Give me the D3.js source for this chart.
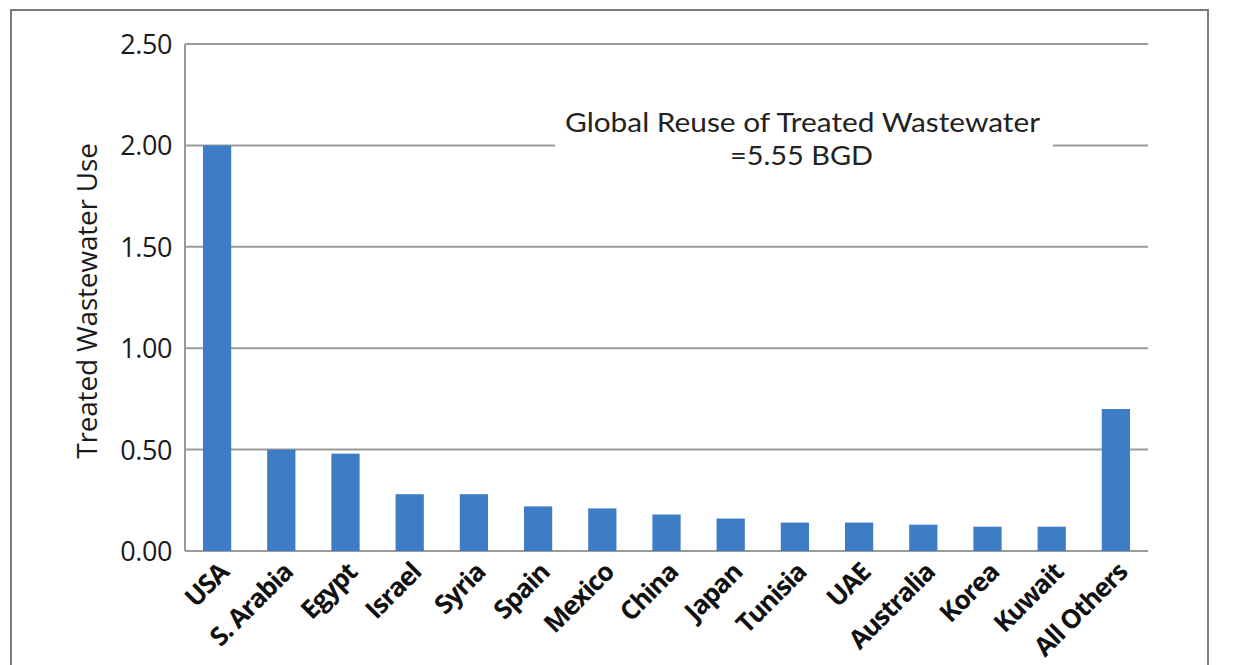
<!DOCTYPE html>
<html><head><meta charset="utf-8">
<script src="https://cdn.jsdelivr.net/npm/d3@7"></script>
<style>body{margin:0;background:#fff}svg{display:block}</style>
</head><body>
<script>
const categories = ["USA","S. Arabia","Egypt","Israel","Syria","Spain","Mexico","China","Japan","Tunisia","UAE","Australia","Korea","Kuwait","All Others"];
const values = [2.00,0.50,0.48,0.28,0.28,0.22,0.21,0.18,0.16,0.14,0.14,0.13,0.12,0.12,0.70];
const yTicks = [0,0.5,1,1.5,2,2.5];
const yTitle = "Treated Wastewater Use";
const noteLines = ["Global Reuse of Treated Wastewater","=5.55 BGD"];

(function(){
const W=1238,H=665;
const svg=d3.select("body").append("svg").attr("width",W).attr("height",H);
const font="'Open Sans', 'DejaVu Sans', sans-serif";
const noteFont="Lato, 'Open Sans', sans-serif";

svg.append("rect").attr("x",11).attr("y",10).attr("width",1197).attr("height",700)
  .attr("fill","none").attr("stroke","#7a7a7a").attr("stroke-width",2);

const pl=185,pr=1148,pt=44,pb=551;
const x=d3.scaleBand().domain(categories).range([pl,pr]).paddingInner(0.56).paddingOuter(0.28);
const y=d3.scaleLinear().domain([0,2.5]).range([pb,pt]);

const gridColor="#9a9a9a";
const gapL=555,gapR=1053;
yTicks.forEach(t=>{
  if(t===2){
    svg.append("line").attr("x1",pl).attr("x2",gapL).attr("y1",y(t)).attr("y2",y(t)).attr("stroke",gridColor).attr("stroke-width",2);
    svg.append("line").attr("x1",gapR).attr("x2",pr).attr("y1",y(t)).attr("y2",y(t)).attr("stroke",gridColor).attr("stroke-width",2);
  } else {
    svg.append("line").attr("x1",pl).attr("x2",pr).attr("y1",y(t)).attr("y2",y(t)).attr("stroke",gridColor).attr("stroke-width",2);
  }
});
svg.append("line").attr("x1",pl).attr("x2",pl).attr("y1",pt).attr("y2",pb).attr("stroke",gridColor).attr("stroke-width",2);

const yAxis=d3.axisLeft(y).tickValues(yTicks).tickFormat(d3.format(".2f")).tickSize(0).tickPadding(13);
const ga=svg.append("g").attr("transform",`translate(${pl},0)`).call(yAxis);
ga.select(".domain").remove();
ga.selectAll("text").attr("font-family",font).attr("font-size",27).attr("fill","#1a1a1a").attr("dy","0.35em").style("letter-spacing","-0.4px");

svg.selectAll("rect.bar").data(values).enter().append("rect").attr("class","bar")
  .attr("x",(d,i)=>x(categories[i])).attr("width",x.bandwidth())
  .attr("y",d=>y(d)).attr("height",d=>y(0)-y(d)).attr("fill","#3f7cc6");

const xAxis=d3.axisBottom(x).tickSize(0).tickPadding(0);
const gx=svg.append("g").attr("transform",`translate(0,${pb})`).call(xAxis);
gx.select(".domain").remove();
gx.selectAll("text").attr("font-family",font).attr("font-size",26).attr("font-weight",700)
  .attr("fill","#111").attr("text-anchor","end").attr("dy",0).attr("y",0)
  .attr("transform","translate(13,23) rotate(-45)").style("letter-spacing","-1.1px");

svg.append("text").attr("transform","translate(97,301) rotate(-90)").attr("text-anchor","middle")
  .attr("font-family",font).attr("font-size",28).attr("font-weight",500).attr("fill","#1a1a1a").style("letter-spacing","-0.2px").text(yTitle);

svg.append("text").attr("x",565).attr("y",132).attr("font-family",noteFont)
  .attr("font-size",27.5).attr("fill","#222").attr("textLength",475).attr("lengthAdjust","spacingAndGlyphs").text(noteLines[0]);
svg.append("text").attr("x",730).attr("y",165).attr("font-family",noteFont)
  .attr("font-size",27.5).attr("fill","#222").attr("textLength",143).attr("lengthAdjust","spacingAndGlyphs").text(noteLines[1]);
})();
</script>
</body></html>
